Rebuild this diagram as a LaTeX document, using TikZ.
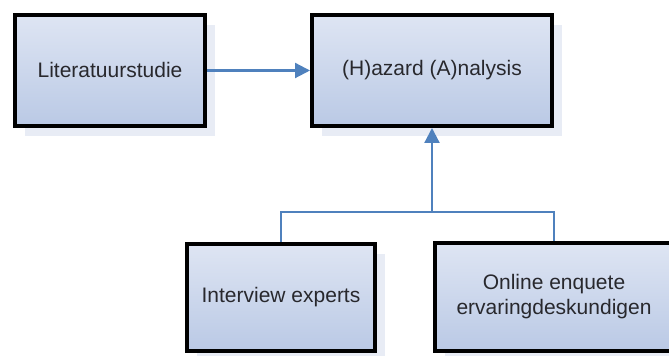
\documentclass[tikz,border=0pt]{standalone}
\usepackage{fontspec}
\setmainfont{Liberation Sans}
\usepackage{tikz}
\usetikzlibrary{arrows.meta, positioning, shadows}
\definecolor{BoxTop}{RGB}{222, 229, 243}
\definecolor{BoxBottom}{RGB}{186, 201, 229}
\definecolor{ShadowBlue}{RGB}{232, 236, 245}
\definecolor{LinkBlue}{RGB}{79, 129, 189}
\definecolor{TextGray}{RGB}{40, 40, 45}

\begin{document}
\begin{tikzpicture}[
    x=0.5pt, y=-0.5pt,
    every node/.style={font=\fontsize{10.5}{12.5}\selectfont, align=center, text=TextGray},
    block/.style={rectangle, draw=black, line width=2pt, top color=BoxTop, bottom color=BoxBottom,
      minimum height=55.5pt, inner sep=4pt,
      drop shadow={shadow xshift=5pt, shadow yshift=-5pt, fill=ShadowBlue, opacity=1}},
    link/.style={draw=LinkBlue, line width=1.1pt},
    arrow/.style={-{Triangle[length=7.5pt, width=7.5pt]}, draw=LinkBlue, line width=1.1pt}
  ]
    \fill[white] (0,0) rectangle (669,356);
    \clip (0,0) rectangle (669,356);

    % Top row
    \node[block, minimum width=95pt] (lit) at (110,70.5) {Literatuurstudie};
    \node[block, minimum width=120pt, right=51.5pt of lit] (haz) {(H)azard (A)nalysis};

    % Bottom row
    \node[block, minimum width=94pt, minimum height=53.5pt] (int) at (281,297.5) {Interview experts};
    \node[block, minimum width=119pt, minimum height=54pt] (onl) at (554,297) {Online enquete\\ervaringdeskundigen};

    % Connections
    \coordinate (join) at (haz.south |- 0,212);
    \draw[arrow] (lit) -- (haz);
    \draw[link] (int.north) |- (join) -| (onl.north);
    \draw[arrow] (join) -- (haz.south);
  \end{tikzpicture}
\end{document}
